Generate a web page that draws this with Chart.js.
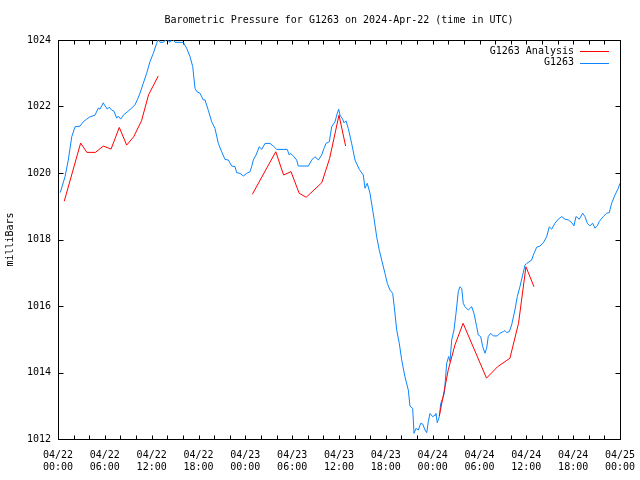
<!DOCTYPE html>
<html>
<head>
<meta charset="utf-8">
<script src="https://cdn.jsdelivr.net/npm/chart.js@4/dist/chart.umd.min.js"></script>
<style>
  html, body { margin: 0; padding: 0; background: #fff; }
  canvas { display: block; }
</style>
</head>
<body>
<canvas id="chart" width="640" height="480"></canvas>
<script>
// hours since 2024-04-22 00:00 UTC
const xTickDates = ["04/22", "04/22", "04/22", "04/22", "04/23", "04/23", "04/23", "04/23", "04/24", "04/24", "04/24", "04/24", "04/25"];
const xTickTimes = ["00:00", "06:00", "12:00", "18:00", "00:00", "06:00", "12:00", "18:00", "00:00", "06:00", "12:00", "18:00", "00:00"];
const yTicks = [1012, 1014, 1016, 1018, 1020, 1022, 1024];

// G1263 Analysis (null = break between runs)
const analysisHours = [
  0.8, 2.9, 3.7, 4.8, 5.8, 6.8, 7.85, 8.8, 9.7, 10.7, 11.6, 12.85, 18,
  24.9, 27.9, 28.9, 29.85, 30.9, 31.8, 33.8, 34.8, 36.0, 36.85, 42,
  48.85, 50.0, 50.86, 51.9, 54.9, 56.3, 57.9, 59.0, 59.95, 60.98
];
const analysisValues = [
  1019.15, 1020.9, 1020.62, 1020.62, 1020.81, 1020.72, 1021.37, 1020.84, 1021.09, 1021.57, 1022.35, 1022.92, null,
  1019.36, 1020.64, 1019.94, 1020.04, 1019.39, 1019.27, 1019.71, 1020.44, 1021.74, 1020.81, null,
  1012.69, 1014.08, 1014.83, 1015.48, 1013.83, 1014.17, 1014.43, 1015.48, 1017.18, 1016.58
];

// G1263 observations
const obsHours = [
  0.29, 0.90, 1.32, 1.76, 2.18, 2.82, 3.24, 3.68, 4.10, 4.74, 5.16, 5.38, 5.80, 6.02, 6.32, 6.57, 6.88, 7.17, 7.52, 7.72,
  8.03, 8.37, 8.88, 9.44, 9.86, 10.16, 10.50, 10.93, 11.36, 11.79, 12.21, 12.64, 12.85, 13.07, 13.45, 13.93, 14.35, 14.6, 14.99, 16.05,
  16.49, 16.91, 17.26, 17.55, 17.77, 18.19, 18.61, 18.83, 19.25, 19.69, 20.11, 20.54, 20.97, 21.39, 21.82, 22.25, 22.68, 22.89, 23.32, 23.74,
  24.17, 24.60, 24.81, 25.02, 25.37, 25.79, 26.10, 26.52, 27.16, 27.58, 28.02, 29.37, 29.63, 29.81, 30.23, 30.58, 30.78, 32.07, 32.50, 32.92,
  33.35, 33.78, 34.08, 34.33, 34.76, 35.06, 35.49, 35.78, 35.96, 36.13, 36.47, 36.64, 36.89, 37.19, 37.62, 38.05, 38.60, 39.11, 39.33, 39.62,
  39.97, 40.31, 40.48, 40.83, 41.16, 41.47, 41.89, 42.19, 42.53, 42.88, 43.08, 43.39, 43.72, 44.03, 44.45, 44.88, 45.09, 45.44, 45.61, 45.86,
  46.16, 46.47, 46.72, 47.02, 47.24, 47.44, 47.66, 48.00, 48.30, 48.42, 48.59, 48.85, 49.03, 49.28, 49.49, 49.80, 50.05, 50.22, 50.44, 50.73,
  50.99, 51.28, 51.50, 51.72, 51.92, 52.14, 52.56, 53.00, 53.29, 53.64, 53.84, 54.15, 54.41, 54.70, 54.92, 55.12, 55.43, 55.77, 56.28, 56.62,
  57.05, 57.26, 57.48, 57.82, 58.12, 58.54, 58.84, 59.18, 59.53, 59.83, 60.04, 60.68, 60.89, 61.33, 61.75, 62.17, 62.60, 62.94, 63.25, 63.67,
  64.09, 64.53, 64.95, 65.37, 65.81, 66.10, 66.36, 66.78, 67.22, 67.51, 67.81, 68.15, 68.50, 68.79, 69.09, 69.34, 69.86, 70.29, 70.63, 70.93,
  71.36, 71.78, 72.0
];
const obsValues = [
  1019.41, 1019.89, 1020.39, 1021.09, 1021.39, 1021.41, 1021.54, 1021.62, 1021.69, 1021.74, 1021.95, 1021.92, 1022.11, 1022.02, 1021.92, 1021.98, 1021.89, 1021.86, 1021.65, 1021.71,
  1021.62, 1021.74, 1021.84, 1021.95, 1022.05, 1022.20, 1022.40, 1022.70, 1023.00, 1023.35, 1023.60, 1023.90, 1024.05, 1023.93, 1023.93, 1024.02, 1023.93, 1024.05, 1023.93, 1023.93,
  1023.75, 1023.50, 1023.20, 1022.55, 1022.45, 1022.40, 1022.20, 1022.20, 1021.89, 1021.54, 1021.34, 1020.89, 1020.64, 1020.41, 1020.39, 1020.21, 1020.19, 1020.01, 1019.99, 1019.91,
  1019.99, 1020.04, 1020.19, 1020.39, 1020.54, 1020.79, 1020.71, 1020.89, 1020.89, 1020.81, 1020.71, 1020.71, 1020.54, 1020.59, 1020.49, 1020.39, 1020.21, 1020.21, 1020.39, 1020.49,
  1020.39, 1020.54, 1020.74, 1020.89, 1020.94, 1021.39, 1021.54, 1021.80, 1021.92, 1021.74, 1021.62, 1021.51, 1021.57, 1021.34, 1020.89, 1020.39, 1020.11, 1019.94, 1019.54, 1019.69,
  1019.39, 1018.89, 1018.64, 1018.08, 1017.68, 1017.38, 1016.98, 1016.68, 1016.48, 1016.38, 1015.98, 1015.28, 1014.88, 1014.38, 1013.87, 1013.47, 1012.99, 1012.92, 1012.17, 1012.32,
  1012.27, 1012.47, 1012.45, 1012.27, 1012.19, 1012.52, 1012.77, 1012.67, 1012.72, 1012.77, 1012.49, 1012.67, 1013.07, 1013.22, 1013.37, 1014.28, 1014.48, 1014.33, 1014.98, 1015.28,
  1015.78, 1016.43, 1016.58, 1016.53, 1016.08, 1015.98, 1015.88, 1015.98, 1015.78, 1015.38, 1015.13, 1015.08, 1014.78, 1014.58, 1014.73, 1015.08, 1015.18, 1015.10, 1015.10, 1015.18,
  1015.23, 1015.26, 1015.20, 1015.23, 1015.43, 1015.88, 1016.28, 1016.58, 1016.93, 1017.23, 1017.28, 1017.38, 1017.53, 1017.77, 1017.80, 1017.90, 1018.08, 1018.38, 1018.31, 1018.49,
  1018.61, 1018.69, 1018.61, 1018.59, 1018.51, 1018.41, 1018.69, 1018.61, 1018.79, 1018.69, 1018.49, 1018.41, 1018.49, 1018.34, 1018.41, 1018.54, 1018.69, 1018.79, 1018.81, 1019.09,
  1019.34, 1019.54, 1019.69
];

const FONT = "'DejaVu Sans Mono', monospace";
const RED = "#ff0000";
const BLUE = "#0a84ff";

const toPoints = (xs, ys) => xs.map((x, i) => ({ x: x, y: ys[i] }));

// gnuplot-ish frame: border, inward ticks on all sides, title, y label, legend
const framePlugin = {
  id: "frame",
  beforeDatasetsDraw(chart) {
    const { ctx, chartArea: a, scales } = chart;
    const L = Math.round(a.left) + 0.5, R = Math.round(a.right) + 0.5;
    const T = Math.round(a.top) + 0.5, B = Math.round(a.bottom) + 0.5;
    ctx.save();
    ctx.strokeStyle = "#000";
    ctx.lineWidth = 1;
    ctx.strokeRect(L, T, R - L, B - T);
    ctx.beginPath();
    scales.x.ticks.forEach(t => {
      const px = Math.round(scales.x.getPixelForValue(t.value)) + 0.5;
      ctx.moveTo(px, B); ctx.lineTo(px, B - 4);
      ctx.moveTo(px, T); ctx.lineTo(px, T + 4);
    });
    scales.y.ticks.forEach(t => {
      const py = Math.round(scales.y.getPixelForValue(t.value)) + 0.5;
      ctx.moveTo(L, py); ctx.lineTo(L + 5, py);
      ctx.moveTo(R, py); ctx.lineTo(R - 5, py);
    });
    ctx.stroke();
    ctx.restore();
  },
  afterDraw(chart) {
    const { ctx, chartArea: a } = chart;
    ctx.save();
    ctx.fillStyle = "#000";
    ctx.font = "10px " + FONT;
    ctx.textBaseline = "middle";
    ctx.textAlign = "center";
    ctx.fillText("Barometric Pressure for G1263 on 2024-Apr-22 (time in UTC)", (a.left + a.right) / 2, 20);

    ctx.save();
    ctx.translate(10, (a.top + a.bottom) / 2);
    ctx.rotate(-Math.PI / 2);
    ctx.fillText("milliBars", 0, 0);
    ctx.restore();

    // legend
    const items = chart.data.datasets;
    ctx.textAlign = "right";
    items.forEach((ds, i) => {
      const y = 51 + i * 11.5;
      ctx.fillStyle = "#000";
      ctx.fillText(ds.label, 574, y);
      ctx.strokeStyle = ds.borderColor;
      ctx.lineWidth = 1;
      ctx.beginPath();
      ctx.moveTo(580, Math.round(y) + 0.5);
      ctx.lineTo(609, Math.round(y) + 0.5);
      ctx.stroke();
    });
    ctx.restore();
  }
};

new Chart(document.getElementById("chart"), {
  type: "line",
  data: {
    datasets: [
      {
        label: "G1263 Analysis",
        data: toPoints(analysisHours, analysisValues),
        borderColor: RED,
        borderWidth: 1,
        pointRadius: 0,
        tension: 0,
        spanGaps: false
      },
      {
        label: "G1263",
        data: toPoints(obsHours, obsValues),
        borderColor: BLUE,
        borderWidth: 1,
        pointRadius: 0,
        tension: 0
      }
    ]
  },
  options: {
    responsive: false,
    animation: false,
    layout: { padding: { left: 0, right: 20, top: 40, bottom: 0 } },
    plugins: {
      legend: { display: false },
      title: { display: false },
      tooltip: { enabled: false }
    },
    scales: {
      x: {
        type: "linear",
        min: 0,
        max: 72,
        border: { display: false },
        grid: { display: false, drawTicks: false },
        afterFit: s => { s.height = 41; s.paddingLeft = 0; s.paddingRight = 0; },
        afterBuildTicks: s => {
          const t = [];
          for (let h = 0; h <= 72; h += 2) t.push({ value: h });
          s.ticks = t;
        },
        ticks: {
          autoSkip: false,
          maxRotation: 0,
          padding: 10,
          color: "#000",
          font: { family: FONT, size: 10, lineHeight: 1.25 },
          callback: v => (v % 6 === 0 ? [xTickDates[v / 6], xTickTimes[v / 6]] : "")
        }
      },
      y: {
        min: 1012,
        max: 1024,
        border: { display: false },
        grid: { display: false, drawTicks: false },
        afterFit: s => { s.width = 58; },
        afterBuildTicks: s => { s.ticks = yTicks.map(v => ({ value: v })); },
        ticks: {
          padding: 7,
          color: "#000",
          font: { family: FONT, size: 10 },
          callback: v => String(v)
        }
      }
    }
  },
  plugins: [framePlugin]
});
</script>
</body>
</html>
